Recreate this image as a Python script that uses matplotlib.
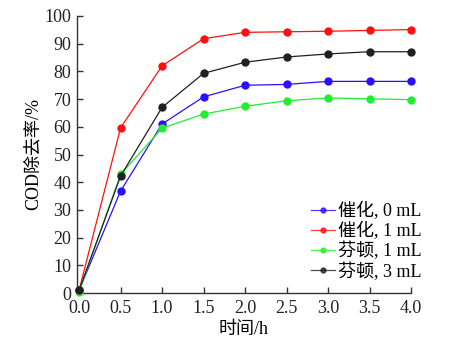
import matplotlib
matplotlib.use("Agg")
import matplotlib.pyplot as plt

time_h = [0.0, 0.5, 1.0, 1.5, 2.0, 2.5, 3.0, 3.5, 4.0]
cat_0 = [1.0, 36.8, 61.0, 70.8, 75.0, 75.3, 76.4, 76.4, 76.4]
cat_1 = [1.0, 59.6, 82.0, 91.8, 94.1, 94.3, 94.5, 94.8, 95.1]
fen_1 = [0.5, 42.8, 59.5, 64.6, 67.4, 69.4, 70.4, 70.1, 69.8]
fen_3 = [1.0, 42.2, 67.0, 79.3, 83.3, 85.2, 86.3, 87.1, 87.1]
labels = ["催化, 0 mL", "催化, 1 mL", "芬顿, 1 mL", "芬顿, 3 mL"]
colors = ["#2a10ff", "#ff1010", "#20ee30", "#202020"]
xticks = [0.0, 0.5, 1.0, 1.5, 2.0, 2.5, 3.0, 3.5, 4.0]
yticks = list(range(0, 101, 10))

plt.rcParams['font.family'] = ['Liberation Serif', 'Noto Sans CJK SC']
plt.rcParams['font.size'] = 13

fig = plt.figure(figsize=(4.59, 3.52), dpi=100)
ax = fig.add_axes([77/459, (352-293)/352, (411-77)/459, (293-16)/352])

for ys, lab, c in zip([cat_0, cat_1, fen_1, fen_3], labels, colors):
    ax.plot(time_h, ys, color=c, lw=0.9, marker='o', ms=5, label=lab, clip_on=False, zorder=3)

ax.set_xlim(-0.025, 4.0)
ax.set_ylim(0, 100)
ax.set_xticks(xticks)
ax.set_xticklabels([f"{t:.1f}" for t in xticks])
ax.set_yticks(yticks)
ax.spines['top'].set_visible(False)
ax.spines['right'].set_visible(False)
for s in ['left', 'bottom']:
    ax.spines[s].set_linewidth(1.0)
    ax.spines[s].set_color('#333333')
ax.tick_params(direction='in', length=4, width=1, colors='#333333', labelcolor='#222222')
ax.tick_params(axis='x', pad=5)
ax.tick_params(axis='y', pad=4)
ax.set_xlabel("时间/h", labelpad=3)
ax.set_ylabel("COD除去率/%", labelpad=2)

leg = ax.legend(loc='lower right', bbox_to_anchor=(1.065, 0.005), frameon=False, handlelength=1.3,
                handletextpad=0.2, labelspacing=0.1, markerscale=0.7, borderaxespad=0.2)
for h in leg.legend_handles:
    h.set_alpha(0.8)

fig.savefig("out.png", dpi=100)
